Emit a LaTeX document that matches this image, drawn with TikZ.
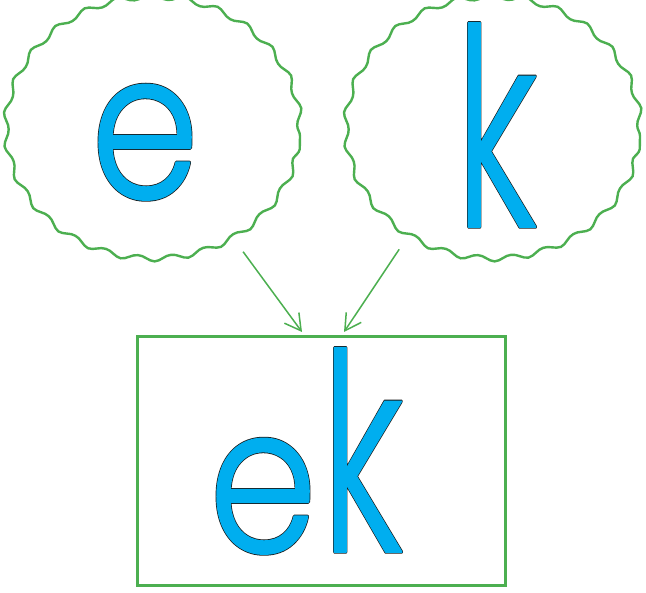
\documentclass[tikz,border=0pt]{standalone}
\usepackage{fontspec}
\newfontfamily\letterfont{Poppins Light}
\usetikzlibrary{shapes.geometric,decorations.pathmorphing,arrows.meta}
\definecolor{gr}{RGB}{76,175,80}
\definecolor{bl}{RGB}{0,174,239}
% #1 outer (black) stroke width, #2 inner (blue) stroke width, #3 letter
\newcommand{\outl}[3]{%
  \rlap{\special{pdf:literal direct 1 j 1 J 2 Tr #1 w 0.1 0.1 0.1 RG 0.1 0.1 0.1 rg}#3}%
  \special{pdf:literal direct 1 j 1 J 2 Tr #2 w 0 0.682 0.937 RG 0 0.682 0.937 rg}#3%
  \special{pdf:literal direct 0 Tr}}
\newcommand{\narrowe}{\scalebox{0.85}[1]{\outl{4.2}{2.6}{e}}}
\newcommand{\narrowk}{\scalebox{0.63}[1]{\outl{3.4}{1.6}{k}}}
\tikzset{
  wavy/.style={draw=gr, line width=2.4bp, ellipse, minimum width=294bp, minimum height=262bp, inner sep=0pt,
    decorate, decoration={snake, segment length=33.6bp, amplitude=2.8bp}},
  boxnode/.style={draw=gr, line width=3bp, minimum width=368bp, minimum height=248bp, inner sep=0pt},
  arr/.style={draw=gr, line width=1.5bp, -{Straight Barb[length=16bp,width=18bp]}},
  letter/.style={text=bl, inner sep=0pt, anchor=base},
  small/.style={font=\letterfont\fontsize{205}{205}\selectfont},
  tall/.style={font=\letterfont\fontsize{277}{277}\selectfont}
}
\begin{document}
\begin{tikzpicture}[x=1bp,y=1bp]
\useasboundingbox (0,0) rectangle (646,593);
\node[wavy] (L) at (153,457) {};
\node[wavy] (R) at (493,457) {};
\node[boxnode] (B) at (321,132) {};
\coordinate (t1) at (302,261);
\coordinate (t2) at (344,261);
\draw[arr, shorten <=9bp] (L.-52) -- (t1);
\draw[arr, shorten <=9bp] (R.230) -- (t2);
\node[letter, small] (e1) at (145,395) {\narrowe};
\node[letter, tall] (k1) at (496,366) {\narrowk};
\node[letter, small] (e2) at (263,41) {\narrowe};
\node[letter, tall] (k2) at (362,41) {\narrowk};
\end{tikzpicture}
\end{document}
